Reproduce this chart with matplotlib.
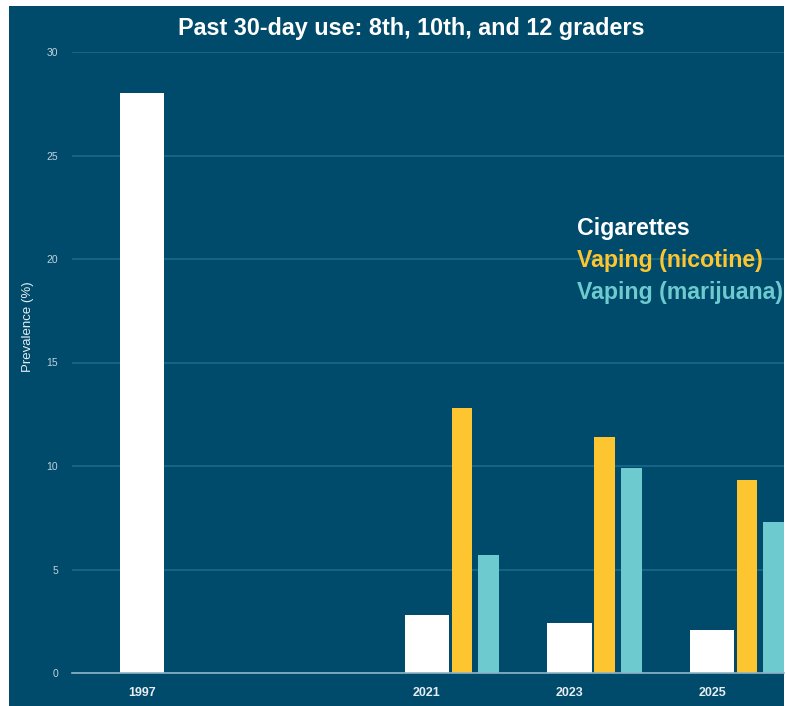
import matplotlib
matplotlib.use("Agg")
import matplotlib.pyplot as plt
from matplotlib.patches import Rectangle

# data
years = ["1997", "2021", "2023", "2025"]
year_slots = [0, 2, 3, 4]  # 1997 sits one empty slot before 2021
cigarettes = [28.0, 2.8, 2.4, 2.1]
vaping_nicotine = [None, 12.8, 11.4, 9.3]
vaping_marijuana = [None, 5.7, 9.9, 7.3]
series_names = ["Cigarettes", "Vaping (nicotine)", "Vaping (marijuana)"]
y_ticks = [0, 5, 10, 15, 20, 25, 30]

bg = "#004a6b"
colors = ["#ffffff", "#fdc530", "#6dcacf"]

W, H = 786, 706
fig = plt.figure(figsize=(W / 100, H / 100), dpi=100, facecolor="white")
# dark panel with a thin white margin on top / left / right
fig.patches.append(Rectangle((9 / W, 0), (784 - 9) / W, (H - 6) / H,
                             transform=fig.transFigure, facecolor=bg,
                             edgecolor="none", zorder=-10))

ax = fig.add_axes([72 / W, 1 - 673 / H, (784 - 72) / W, (673 - 52) / H])
ax.set_zorder(1)
ax.patch.set_alpha(0)

# cigarettes centred on the slot, vaping bars to the right
ax.bar(year_slots, cigarettes, width=0.31, color=colors[0], zorder=3)
vx = [s for s, v in zip(year_slots, vaping_nicotine) if v is not None]
ax.bar([s + 0.246 for s in vx], [v for v in vaping_nicotine if v is not None],
       width=0.145, color=colors[1], zorder=3)
ax.bar([s + 0.432 for s in vx], [v for v in vaping_marijuana if v is not None],
       width=0.147, color=colors[2], zorder=3)

ax.set_xlim(-0.49, 4.505)
ax.set_ylim(0, 30)
ax.set_yticks(y_ticks)
ax.set_yticklabels([str(t) for t in y_ticks], color="#c3d3dc", fontsize=7.5,
                   fontfamily="Liberation Sans")
ax.set_xticks(year_slots)
ax.set_xticklabels(years, color="#e6eef2", fontsize=9, fontweight="bold",
                   fontfamily="Liberation Sans")
ax.tick_params(axis="y", length=0, pad=10)
ax.tick_params(axis="x", length=0, pad=10)
ax.grid(axis="y", color="#1a6c8e", linewidth=1.1, zorder=1)
ax.set_axisbelow(True)
for side in ["top", "right", "left"]:
    ax.spines[side].set_visible(False)
ax.spines["bottom"].set_color("#8fb4c6")
ax.spines["bottom"].set_linewidth(1.2)
ax.spines["bottom"].set_zorder(4)

fig.text(28 / W, 1 - 327 / H, "Prevalence (%)", rotation=90, color="#e6eef2",
         fontsize=9.5, ha="center", va="center", fontfamily="Liberation Sans")

fig.text(411 / W, 1 - 28 / H, "Past 30-day use: 8th, 10th, and 12 graders",
         color="white", fontsize=16.8, fontweight="bold", ha="center",
         va="center", fontfamily="Liberation Sans")

# coloured text legend
for i, (name, c) in enumerate(zip(series_names, colors)):
    fig.text(577 / W, 1 - (229 + 31.5 * i) / H, name, color=c, fontsize=16.7,
             fontweight="bold", ha="left", va="center",
             fontfamily="Liberation Sans")

fig.savefig("out.png", dpi=100, facecolor="white")
